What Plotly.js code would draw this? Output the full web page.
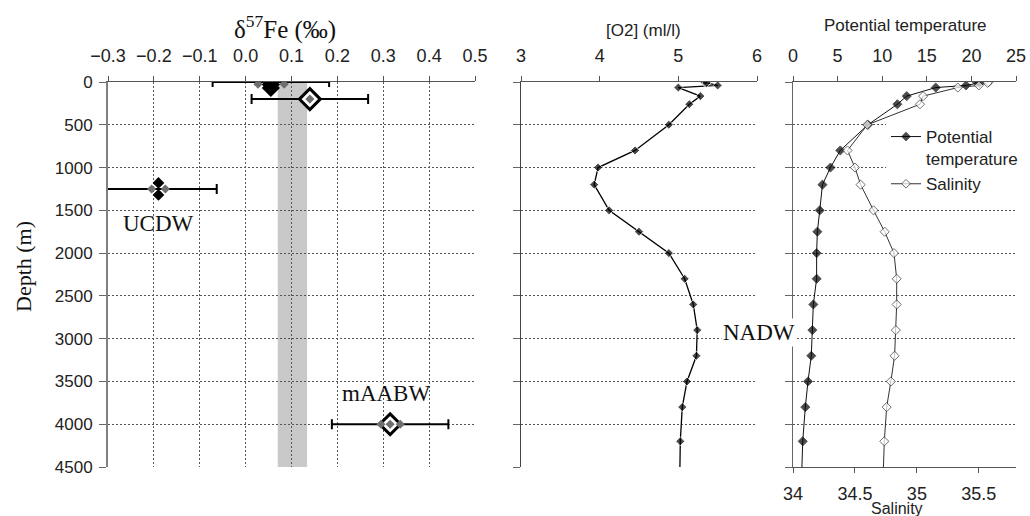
<!DOCTYPE html>
<html><head><meta charset="utf-8">
<script src="https://cdn.plot.ly/plotly-3.0.1.min.js"></script>
<style>html,body{margin:0;padding:0;background:#fff}#chart{width:1030px;height:516px}</style>
</head><body><div id="chart"></div>
<script>
// ---------- Data ----------
// Left panel: iron isotopes (delta57Fe, permil) vs depth (m)
const feReplX      = [0.027, 0.084, 0.14, -0.205, -0.175, 0.295, 0.315, 0.337];
const feReplDepth  = [25, 25, 200, 1250, 1250, 4000, 4000, 4000];
const feFilledX     = [0.055, 0.055];
const feFilledDepth = [30, 70];
const ucdwX         = [-0.19, -0.19];
const ucdwDepth     = [1180, 1320];
const feOpenX       = [0.14, 0.315];
const feOpenDepth   = [200, 4000];
const errX          = [0.055, 0.14, -0.19, 0.315];
const errDepth      = [0, 200, 1250, 4000];
const errHalf       = [0.127, 0.127, 0.127, 0.127];
const bandLo = 0.07, bandHi = 0.134;

// Hydrography profiles
const depth   = [0, 10, 40, 65, 165, 260, 500, 800, 1000, 1200, 1500, 1750, 2000, 2300, 2600, 2900, 3200, 3500, 3800, 4200, 4500];
const oxygen  = [5.33, 5.36, 5.50, 5.00, 5.28, 5.14, 4.88, 4.45, 3.98, 3.93, 4.12, 4.50, 4.88, 5.08, 5.19, 5.24, 5.23, 5.11, 5.05, 5.025, 5.02];
const potTemp = [20.6, 20.9, 19.4, 16.0, 12.75, 11.7, 8.4, 5.3, 4.2, 3.3, 3.0, 2.73, 2.65, 2.65, 2.28, 2.17, 2.05, 1.68, 1.38, 1.09, 1.0];
const salinity= [35.58, 35.57, 35.50, 35.33, 35.05, 35.025, 34.60, 34.44, 34.50, 34.546, 34.65, 34.74, 34.815, 34.837, 34.837, 34.83, 34.82, 34.79, 34.756, 34.737, 34.73];
const markerShown = depth.map((d, i) => i < depth.length - 1 ? 1 : 0);

const salTicks = [34, 34.5, 35, 35.5];
const salTickText = ['34', '34.5', '35', '35.5'];

// ---------- Layout helpers ----------
const W = 1030, H = 516;
const fx = p => p / W;
const fy = p => 1 - p / H;
const SANS = 'Liberation Sans, Arial, sans-serif';
const SERIF = 'Liberation Serif, Times New Roman, serif';
const yDomain = [fy(467), fy(82)];

const baseY = {
  domain: yDomain, range: [4500, 0], tick0: 0, dtick: 500,
  showgrid: true, gridcolor: '#555', griddash: '2px,2px', gridwidth: 1,
  zeroline: false, showline: true, linecolor: '#808080', linewidth: 2,
  ticks: 'outside', ticklen: 7, tickcolor: '#666', tickwidth: 1
};
const baseX = {
  side: 'top', zeroline: false, showline: true, linecolor: '#555', linewidth: 1,
  ticks: 'outside', ticklen: 5, tickcolor: '#555', tickfont: {family: SANS, size: 18, color: '#222'},
  ticklabelstandoff: 7
};

const sizeScale = markerShown.map(v => v * 7);

const traces = [
  // error bars (left panel)
  {x: errX, y: errDepth, xaxis: 'x', yaxis: 'y', mode: 'markers', showlegend: false, hoverinfo: 'skip',
   marker: {color: 'rgba(0,0,0,0)', size: 1},
   error_x: {type: 'data', array: errHalf, color: '#000', thickness: 2, width: 5}},
  {x: feOpenX, y: feOpenDepth, xaxis: 'x', yaxis: 'y', mode: 'markers', showlegend: false,
   marker: {symbol: 'diamond', size: 16, color: '#fff', line: {color: '#000', width: 3}}},
  {x: feReplX, y: feReplDepth, xaxis: 'x', yaxis: 'y', mode: 'markers', showlegend: false,
   marker: {symbol: 'diamond', size: 7, color: '#6e6e6e'}},
  {x: feFilledX, y: feFilledDepth, xaxis: 'x', yaxis: 'y', mode: 'markers', showlegend: false,
   marker: {symbol: 'diamond', size: 14, color: '#000'}},
  {x: ucdwX, y: ucdwDepth, xaxis: 'x', yaxis: 'y', mode: 'markers', showlegend: false,
   marker: {symbol: 'diamond', size: 9, color: '#000'}},
  // oxygen
  {x: oxygen, y: depth, xaxis: 'x2', yaxis: 'y2', mode: 'lines+markers', showlegend: false,
   line: {color: '#000', width: 1.3}, marker: {symbol: 'diamond', size: sizeScale, color: '#000'}},
  // potential temperature
  {x: potTemp, y: depth, xaxis: 'x3', yaxis: 'y3', mode: 'lines+markers', name: 'Potential<br>temperature',
   line: {color: '#111', width: 1}, marker: {symbol: 'diamond', size: sizeScale, color: '#000'}},
  // salinity
  {x: salinity, y: depth, xaxis: 'x4', yaxis: 'y3', mode: 'lines+markers', name: 'Salinity',
   line: {color: '#333', width: 1}, marker: {symbol: 'diamond', size: sizeScale, color: '#fff', line: {color: '#333', width: 1}}}
];

const ann = (text, x, y, font, extra) => Object.assign({text, xref: 'paper', yref: 'paper', x: fx(x), y: fy(y),
  xanchor: 'center', yanchor: 'middle', showarrow: false, font}, extra || {});

const layout = {
  width: W, height: H, margin: {l: 0, r: 0, t: 0, b: 0},
  paper_bgcolor: '#fff', plot_bgcolor: 'rgba(0,0,0,0)',
  font: {family: SANS, size: 16, color: '#222'},
  showlegend: true,
  legend: {x: fx(886), y: fy(119), xanchor: 'left', yanchor: 'top', bgcolor: '#fff',
           font: {family: SANS, size: 17, color: '#222'}, itemwidth: 30, valign: 'top', tracegroupgap: 0},
  xaxis: Object.assign({}, baseX, {domain: [fx(108), fx(475)], anchor: 'y', range: [-0.3, 0.5], tick0: -0.3, dtick: 0.1,
         tickformat: '.1f', showgrid: true, gridcolor: '#555', griddash: '2px,2px', gridwidth: 1}),
  yaxis: Object.assign({}, baseY, {anchor: 'x', tickfont: {family: SANS, size: 17, color: '#222'}, ticklabelstandoff: 3}),
  xaxis2: Object.assign({}, baseX, {domain: [fx(521), fx(757)], anchor: 'y2', range: [3, 6], dtick: 1, showgrid: false}),
  yaxis2: Object.assign({}, baseY, {anchor: 'x2', showticklabels: false, linecolor: '#444', linewidth: 1.5}),
  xaxis3: Object.assign({}, baseX, {domain: [fx(793), fx(1016)], anchor: 'y3', range: [0, 25], dtick: 5, showgrid: false}),
  xaxis4: Object.assign({}, baseX, {overlaying: 'x3', anchor: 'y3', side: 'bottom', range: [34, 35.8],
          tickvals: salTicks, ticktext: salTickText, showgrid: false, ticklabelstandoff: 5}),
  yaxis3: Object.assign({}, baseY, {anchor: 'x3', showticklabels: false, linecolor: '#666', linewidth: 1.5}),
  shapes: [
    {type: 'rect', xref: 'x', yref: 'y', x0: bandLo, x1: bandHi, y0: 0, y1: 4500,
     fillcolor: '#c9c9c9', line: {width: 0}, layer: 'below'}
  ],
  annotations: [
    ann('δ<sup>57</sup>Fe (‰)', 285, 28, {family: SERIF, size: 25, color: '#111'}),
    ann('Depth (m)', 23, 267, {family: SERIF, size: 22, color: '#111'}, {textangle: -90}),
    ann('[O2] (ml/l)', 643, 31, {family: SANS, size: 17, color: '#222'}),
    ann('Potential temperature', 905, 26, {family: SANS, size: 17, color: '#222'}),
    ann('Salinity', 897, 508, {family: SANS, size: 16, color: '#222'}),
    {text: 'UCDW', xref: 'x', yref: 'y', x: -0.19, y: 1659, xanchor: 'center', yanchor: 'middle', showarrow: false,
     font: {family: SERIF, size: 23, color: '#111'}},
    {text: 'mAABW', xref: 'x', yref: 'y', x: 0.306, y: 3645, xanchor: 'center', yanchor: 'middle', showarrow: false,
     font: {family: SERIF, size: 23, color: '#111'}},
    ann('NADW', 759, 332, {family: SERIF, size: 23, color: '#111'}, {bgcolor: '#fff'})
  ]
};

Plotly.newPlot('chart', traces, layout, {displayModeBar: false, staticPlot: true});
</script></body></html>
